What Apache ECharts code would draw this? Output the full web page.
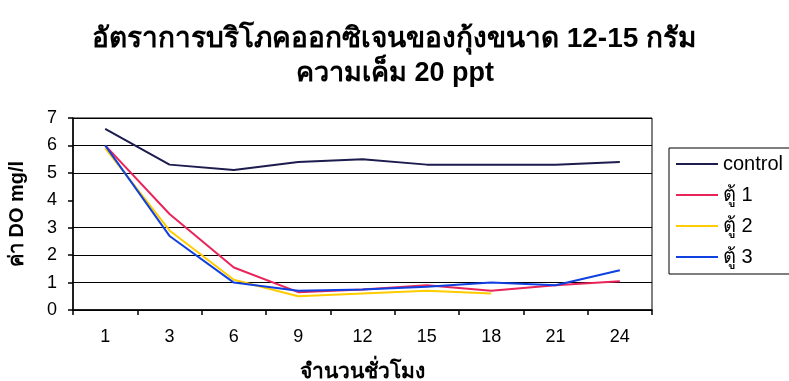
<!DOCTYPE html>
<html>
<head>
<meta charset="utf-8">
<script src="https://cdn.jsdelivr.net/npm/echarts@6/dist/echarts.min.js"></script>
<style>
html,body{margin:0;padding:0;background:#fff;}
#chart{width:789px;height:381px;}
</style>
</head>
<body>
<div id="chart"></div>
<script>
// Hours after start
const hours = ['1', '3', '6', '9', '12', '15', '18', '21', '24'];
// Dissolved oxygen (mg/l) per tank
const control = [6.6, 5.3, 5.1, 5.4, 5.5, 5.3, 5.3, 5.3, 5.4];
const tank1 = [6.0, 3.5, 1.55, 0.65, 0.75, 0.9, 0.7, 0.9, 1.05];
const tank2 = [5.9, 2.9, 1.1, 0.5, 0.6, 0.7, 0.6, null, null];
const tank3 = [6.0, 2.7, 1.0, 0.7, 0.75, 0.85, 1.0, 0.9, 1.45];
const seriesNames = ['control', 'ตู้ 1', 'ตู้ 2', 'ตู้ 3'];
const seriesColors = ['#1c1c4e', '#e8245a', '#ffcc00', '#1040e0'];

const font = 'Arial, "Liberation Sans", sans-serif';
const chart = echarts.init(document.getElementById('chart'));
const values = [control, tank1, tank2, tank3];

chart.setOption({
  backgroundColor: '#fff',
  animation: false,
  title: [
    { text: 'อัตราการบริโภคออกซิเจนของกุ้งขนาด 12-15 กรัม', left: 389, textAlign: 'center', top: 20,
      textStyle: { fontFamily: font, fontSize: 28, fontWeight: 'bold', color: '#000' } },
    { text: 'ความเค็ม 20 ppt', left: 390, textAlign: 'center', top: 55,
      textStyle: { fontFamily: font, fontSize: 27, fontWeight: 'bold', color: '#000' } }
  ],
  grid: { left: 73, right: 137, top: 118, bottom: 71, outerBoundsMode: 'none',
    show: true, borderColor: '#000', borderWidth: 1 },
  legend: {
    orient: 'vertical', left: 669, top: 148,
    data: seriesNames,
    icon: 'rect', itemWidth: 42, itemHeight: 2, itemGap: 11,
    borderColor: '#000', borderWidth: 1, padding: [6, 40, 7, 7],
    textStyle: { fontFamily: font, fontSize: 20, color: '#000' }
  },
  xAxis: {
    type: 'category', data: hours, boundaryGap: true,
    name: 'จำนวนชั่วโมง', nameLocation: 'middle', nameGap: 52,
    nameTextStyle: { fontFamily: font, fontSize: 21, fontWeight: 'bold', color: '#000' },
    axisLine: { lineStyle: { color: '#000', width: 1.5 } },
    axisTick: { show: true, length: 5, lineStyle: { color: '#000', width: 1.5 } },
    axisLabel: { fontFamily: font, fontSize: 18, color: '#000', margin: 18 }
  },
  yAxis: {
    type: 'value', min: 0, max: 7, interval: 1,
    name: 'ค่า DO mg/l', nameLocation: 'middle', nameGap: 46,
    nameTextStyle: { fontFamily: font, fontSize: 20, fontWeight: 'bold', color: '#000' },
    axisLine: { show: true, lineStyle: { color: '#000', width: 1.5 } },
    axisTick: { show: true, length: 5, lineStyle: { color: '#000', width: 1.5 } },
    axisLabel: { fontFamily: font, fontSize: 18, color: '#000', margin: 16 },
    splitLine: { show: true, lineStyle: { color: ['#000', '#000', '#000', '#000', 'rgba(0,0,0,0)', '#000', '#000', '#000'], width: 1.2 } }
  },
  series: values.map((d, i) => ({
    name: seriesNames[i], type: 'line', data: d,
    showSymbol: false, symbol: 'none',
    connectNulls: false,
    color: seriesColors[i],
    lineStyle: { color: seriesColors[i], width: 2 }
  }))
});
</script>
</body>
</html>
